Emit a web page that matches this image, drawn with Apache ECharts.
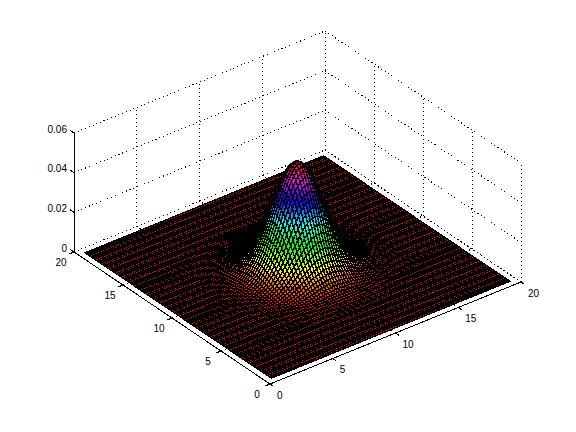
<!DOCTYPE html>
<html><head><meta charset="utf-8">
<style>html,body{margin:0;background:#fff}#c{width:576px;height:432px}
svg path{shape-rendering:crispEdges}</style>
<script src="https://cdn.jsdelivr.net/npm/echarts@6/dist/echarts.min.js"></script></head>
<body><div id="c"></div><script>
const xTicks=[0,5,10,15,20];
const yTicks=[0,5,10,15,20];
const zTicks=[0,0.02,0.04,0.06];
const xTickLabels=['0','5','10','15','20'];
const yTickLabels=['0','5','10','15','20'];
const zTickLabels=['0','0.02','0.04','0.06'];
const nodes=97, gridStart=0.5, gridStep=19/96, centre=48;
const zPeak=53;
// estimated surface heights (units of 0.001). The bump reads as round about its centre,
// so row k lists the heights at mesh offsets (k,k),(k,k+1),(k,k+2)... from the centre.
const zBands=[
[53,52.7,51.6,50,47.7,45,41.9,38.5,34.9,31.2,27.6,24,20.7,17.6,14.7,12.2,10,8,6.4,5,3.9,3,2.2,1.7,1.2,.9,.6,.5,.3,.2,.1],
[52.3,51.3,49.7,47.4,44.7,41.6,38.2,34.7,31,27.4,23.8,20.6,17.5,14.6,12.1,9.9,8,6.3,5,3.9,3,2.2,1.7,1.2,.9,.6,.4,.3,.2,.1],
[50.3,48.7,46.5,43.8,40.8,37.5,34,30.4,26.9,23.4,20.2,17.1,14.3,11.9,9.7,7.8,6.2,4.9,3.8,2.9,2.1,1.7,1.2,.9,.6,.4,.3,.2,.1],
[47.1,45,42.4,39.5,36.3,32.9,29.4,26,22.6,19.5,16.6,13.9,11.5,9.4,7.5,6,4.7,3.7,2.8,2.1,1.6,1.1,.8,.6,.4,.3,.2,.1],
[43,40.5,37.7,34.7,31.4,28.1,24.9,21.6,18.6,15.9,13.2,11,9,7.2,5.8,4.5,3.5,2.7,2,1.5,1.1,.8,.5,.4,.3,.2,.1],
[38.2,35.6,32.7,29.6,26.5,23.4,20.4,17.6,14.9,12.5,10.4,8.5,6.8,5.4,4.2,3.3,2.5,1.9,1.4,1,.8,.5,.4,.3,.2,.1],
[33.1,30.4,27.6,24.7,21.8,19,16.4,13.9,11.6,9.6,7.9,6.3,5.1,4,3.1,2.4,1.7,1.3,.9,.7,.5,.4,.2,.2,.1],
[27.9,25.3,22.7,20,17.4,15,12.8,10.7,8.9,7.3,5.8,4.6,3.6,2.8,2.2,1.6,1.2,.9,.7,.4,.4,.2,.1,.1],
[23,20.5,18.2,15.8,13.6,11.6,9.7,8,6.6,5.3,4.2,3.3,2.6,2,1.4,1.1,.8,.6,.4,.3,.2,.1,.1],
[18.4,16.3,14.1,12.2,10.4,8.7,7.2,5.9,4.7,3.8,2.9,2.3,1.8,1.3,1,.7,.5,.4,.3,.2,.1,.1],
[14.4,12.5,10.8,9.2,7.6,6.3,5.2,4.2,3.3,2.6,2,1.6,1.1,.9,.6,.5,.3,.3,.2,.1,.1],
[10.9,9.4,8,6.7,5.5,4.5,3.6,2.9,2.3,1.8,1.4,1,.8,.5,.4,.3,.2,.1,.1],
[8.1,6.9,5.7,4.8,3.9,3.1,2.5,2,1.5,1.2,.9,.7,.5,.4,.2,.2,.1,.1],
[5.8,4.9,4,3.3,2.7,2.1,1.7,1.3,1,.7,.6,.4,.3,.2,.2,.1,.1],
[4.1,3.4,2.8,2.2,1.8,1.4,1.1,.8,.6,.5,.3,.3,.2,.1,.1,.1],
[2.8,2.3,1.8,1.5,1.1,.9,.7,.5,.4,.3,.2,.1,.1,.1],
[1.9,1.5,1.2,.9,.7,.6,.4,.3,.2,.2,.1,.1,.1],
[1.2,1,.8,.6,.5,.3,.3,.2,.1,.1,.1],
[.8,.6,.5,.4,.3,.2,.1,.1,.1,.1],
[.5,.4,.3,.2,.2,.1,.1,.1],
[.3,.2,.2,.1,.1,.1],
[.2,.1,.1,.1,.1],
[.1,.1,.1],
[.1]
];
const zAt=(i,j)=>{
  const a=Math.abs(i-centre),b=Math.abs(j-centre),lo=Math.min(a,b),hi=Math.max(a,b);
  const row=zBands[lo];return row&&row[hi-lo]!==undefined?row[hi-lo]:0;
};
// view of the 3-D box on the page plane
const view={ox:270,oy:384,xx:12.55,xy:-5.1,yx:-9.8,yy:-6.6,zy:-1983};
const proj=(x,y,z)=>[view.ox+view.xx*x+view.yx*y, view.oy+view.xy*x+view.yy*y+view.zy*z];
const hsv=h=>{
  const l=Math.min(63,Math.floor(h*64))/64*6, k=n=>{const t=(n+l)%6;return 1-Math.max(0,Math.min(t,4-t,1));};
  return 'rgb('+[k(5),k(3),k(1)].map(v=>Math.round(v*255)).join(',')+')';
};
const zMax=zTicks[zTicks.length-1], xMax=xTicks[4], yMax=yTicks[4];
const dotted=[],solid=[],labels=[];
const seg=(list,a,b)=>list.push([...a,...b]);
xTicks.forEach(x=>{seg(dotted,[x,0,0],[x,yMax,0]);seg(dotted,[x,yMax,0],[x,yMax,zMax]);});
yTicks.forEach(y=>{seg(dotted,[0,y,0],[xMax,y,0]);seg(dotted,[xMax,y,0],[xMax,y,zMax]);});
zTicks.forEach(z=>{seg(dotted,[0,yMax,z],[xMax,yMax,z]);seg(dotted,[xMax,yMax,z],[xMax,0,z]);});
seg(solid,[0,yMax,0],[0,yMax,zMax]);seg(solid,[0,0,0],[0,yMax,0]);seg(solid,[0,0,0],[xMax,0,0]);
xTicks.forEach(x=>seg(solid,[x,0,0],[x,-0.35,0]));
yTicks.forEach(y=>seg(solid,[0,y,0],[-0.35,y,0]));
zTicks.forEach(z=>seg(solid,[0,yMax,z],[0,yMax+0.4,z]));
xTicks.forEach((x,n)=>labels.push([x,0,0,xTickLabels[n],'left',7,11]));
yTicks.forEach((y,n)=>labels.push([0,y,0,yTickLabels[n],'center',-13,10]));
zTicks.forEach((z,n)=>labels.push([0,yMax,z,zTickLabels[n],'right',-7,-4]));
const cells=[];
for(let j=nodes-2;j>=0;j--)for(let i=nodes-2;i>=0;i--)cells.push([i,j]);
const lineSeries=(data,extra)=>({type:'custom',coordinateSystem:'cartesian2d',silent:true,animation:false,progressive:0,data,
  renderItem:(p,api)=>{
    const a=api.coord(proj(api.value(0),api.value(1),api.value(2))),b=api.coord(proj(api.value(3),api.value(4),api.value(5)));
    return {type:'line',shape:{x1:a[0],y1:a[1],x2:b[0],y2:b[1]},style:Object.assign({stroke:'#000',fill:null},extra)};
  }});
const chart=echarts.init(document.getElementById('c'),null,{renderer:'svg',width:576,height:432});
chart.setOption({
  animation:false,backgroundColor:'#fff',
  grid:{left:0,right:0,top:0,bottom:0},
  xAxis:{type:'value',min:0,max:576,show:false},
  yAxis:{type:'value',min:0,max:432,inverse:true,show:false},
  series:[
    lineSeries(dotted,{lineWidth:1,lineDash:[1,3]}),
    {type:'custom',coordinateSystem:'cartesian2d',silent:true,animation:false,progressive:0,data:cells,
     renderItem:(p,api)=>{
       const i=api.value(0),j=api.value(1);
       const pt=(a,b)=>api.coord(proj(gridStart+a*gridStep,gridStart+b*gridStep,zAt(a,b)/1000));
       return {type:'polygon',shape:{points:[pt(i,j),pt(i+1,j),pt(i+1,j+1),pt(i,j+1)]},
         style:{fill:hsv(zAt(i,j)/zPeak),stroke:'#000',lineWidth:1.45}};
     }},
    lineSeries(solid,{lineWidth:1}),
    {type:'custom',coordinateSystem:'cartesian2d',silent:true,animation:false,progressive:0,
     data:labels.map(l=>({value:[l[0],l[1],l[2],l[5],l[6]]})),
     renderItem:(p,api)=>{
       const c=api.coord(proj(api.value(0),api.value(1),api.value(2))),l=labels[p.dataIndex];
       return {type:'text',x:c[0]+api.value(3),y:c[1]+api.value(4),
         style:{text:l[3],align:l[4],verticalAlign:'middle',fill:'#000',fontSize:10,fontFamily:'"Liberation Sans",Helvetica,Arial,sans-serif'}};
     }}
  ]
});
</script></body></html>
